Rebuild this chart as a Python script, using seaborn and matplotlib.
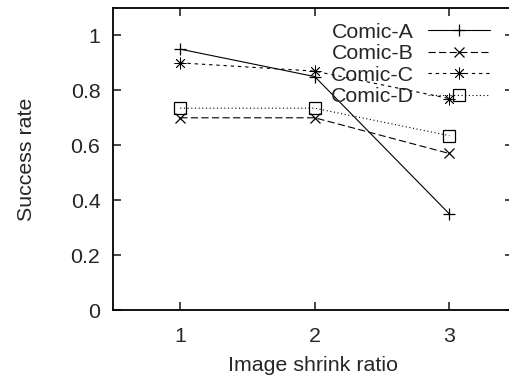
import pandas as pd
import matplotlib
matplotlib.use("Agg")
import matplotlib.pyplot as plt
import seaborn as sns

# values
shrink_ratio = [1, 2, 3]
comic_a = [0.95, 0.85, 0.35]
comic_b = [0.70, 0.70, 0.57]
comic_c = [0.90, 0.87, 0.77]
comic_d = [0.735, 0.735, 0.635]
series_names = ["Comic-A", "Comic-B", "Comic-C", "Comic-D"]
y_ticks = [0, 0.2, 0.4, 0.6, 0.8, 1]
y_tick_labels = ["0", "0.2", "0.4", "0.6", "0.8", "1"]

sns.set_theme(style="ticks")
plt.rcParams['font.family'] = ['Liberation Sans', 'DejaVu Sans']
plt.rcParams['font.size'] = 15.4

def main():
    df = pd.DataFrame({
        "ratio": shrink_ratio * 4,
        "rate": comic_a + comic_b + comic_c + comic_d,
        "series": [n for n in series_names for _ in shrink_ratio],
    })

    styles = {
        "Comic-A": dict(linestyle="-", marker="+", markersize=9, markeredgewidth=0.9),
        "Comic-B": dict(linestyle=(0, (6.5, 3)), marker="x", markersize=7.5,
                        markeredgewidth=0.9),
        "Comic-C": dict(linestyle=(0, (3, 3.5)), marker=(8, 2, 0), markersize=8.5,
                        markeredgewidth=0.6),
        "Comic-D": dict(linestyle=(0, (1, 2.3)), marker="s", markersize=8,
                        fillstyle="none", markeredgewidth=0.9),
    }

    fig = plt.figure(figsize=(5.09, 3.79), dpi=100)
    ax = fig.add_axes([0.222, 0.182, 0.785, 0.797])

    for name in series_names:
        sub = df[df["series"] == name]
        sns.lineplot(data=sub, x="ratio", y="rate", ax=ax, color="black",
                     linewidth=0.8, markeredgecolor="black", label=name,
                     **styles[name])

    ax.set_xlim(0.5, 3.47)
    ax.set_ylim(0, 1.1)
    ax.set_xticks(shrink_ratio)
    ax.set_xticklabels([str(v) for v in shrink_ratio])
    ax.set_yticks(y_ticks)
    ax.set_yticklabels(y_tick_labels)
    ax.tick_params(direction="in", length=6, width=1.2, top=True, right=True,
                   labelsize=15.4, pad=9)
    ax.tick_params(axis="x", pad=12)
    for s in ax.spines.values():
        s.set_linewidth(1.3)
        s.set_color("black")

    ax.set_xlabel("Image shrink ratio", fontsize=15.4, labelpad=7.5)
    ax.set_ylabel("Success rate", fontsize=15.4, labelpad=25)

    ax.legend(loc="upper right", frameon=False, markerfirst=False,
              handlelength=2.9, handletextpad=0.65, labelspacing=0.12,
              borderaxespad=0.0, fontsize=15.4, bbox_to_anchor=(0.965, 0.98))

    fig.savefig("out.png", dpi=100)

if __name__ == "__main__":
    main()
